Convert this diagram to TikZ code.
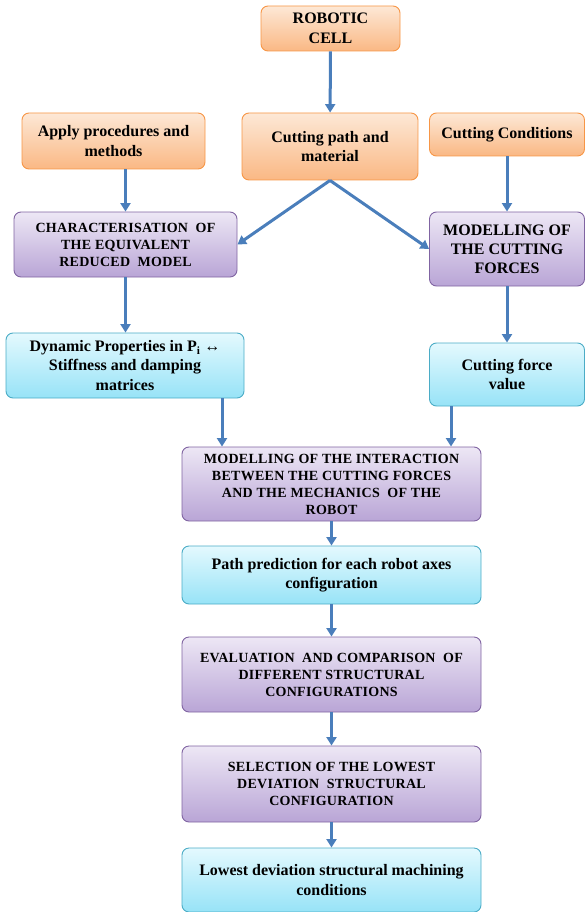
\documentclass[tikz,border=0pt]{standalone}
\usepackage{fontspec}
\setmainfont{Liberation Serif}
\newfontfamily\capsfont[LetterSpace=2]{Liberation Serif}
\usepackage{tikz}
\usetikzlibrary{arrows.meta}

\definecolor{orangeTop}{HTML}{FDE8D6}
\definecolor{orangeBottom}{HTML}{FAB884}
\definecolor{orangeEdge}{HTML}{F79646}
\definecolor{purpleTop}{HTML}{EDE7F5}
\definecolor{purpleBottom}{HTML}{B9A5D6}
\definecolor{purpleEdge}{HTML}{8064A2}
\definecolor{cyanTop}{HTML}{E4F9FE}
\definecolor{cyanBottom}{HTML}{97E3F7}
\definecolor{cyanEdge}{HTML}{4BACC6}
\definecolor{arrowBlue}{HTML}{4A7EBB}

\tikzset{
    block/.style={rounded corners=7pt, line width=0.9pt, align=center, inner sep=2pt},
    orangeblock/.style={block, draw=orangeEdge, top color=orangeTop, bottom color=orangeBottom,
        font=\bfseries\fontsize{16}{19.5}\selectfont},
    purpleblock/.style={block, draw=purpleEdge, top color=purpleTop, bottom color=purpleBottom,
        font=\capsfont\bfseries\fontsize{14}{17}\selectfont},
    cyanblock/.style={block, draw=cyanEdge, top color=cyanTop, bottom color=cyanBottom,
        font=\bfseries\fontsize{16}{19.5}\selectfont},
    flow/.style={draw=arrowBlue, line width=3pt, -{Triangle[length=8.5pt,width=10pt]}}
}

\begin{document}
\begin{tikzpicture}[x=1pt, y=-1pt]
    \useasboundingbox (0,0) rectangle (585,912);

    \node[orangeblock, minimum width=139pt, minimum height=45pt] (cell) at (330.5,28.5) {ROBOTIC\\CELL};
    \node[orangeblock, minimum width=183pt, minimum height=56pt] (apply) at (113.5,141) {Apply procedures and\\methods};
    \node[orangeblock, minimum width=176pt, minimum height=67pt] (path) at (330,146.5) {Cutting path and\\material};
    \node[orangeblock, minimum width=155pt, minimum height=43pt] (cond) at (507,134.5) {Cutting Conditions};

    \node[purpleblock, minimum width=223pt, minimum height=65pt] (charact) at (125.5,244.5) {CHARACTERISATION\ \ OF\\THE EQUIVALENT\\REDUCED\ \ MODEL};
    \node[purpleblock, minimum width=155pt, minimum height=74pt, font=\bfseries\fontsize{16}{19}\selectfont] (forces) at (507,249) {MODELLING OF\\THE CUTTING\\FORCES};

    \node[cyanblock, minimum width=238pt, minimum height=65pt] (dyn) at (125,365.5) {Dynamic Properties in P\textsubscript{i} ↔\\Stiffness and damping\\matrices};
    \node[cyanblock, minimum width=155pt, minimum height=63pt] (value) at (507,374.5) {Cutting force\\value};

    \node[purpleblock, minimum width=299pt, minimum height=74pt] (inter) at (331.5,484) {MODELLING OF THE INTERACTION\\BETWEEN THE CUTTING FORCES\\AND THE MECHANICS\ \ OF THE\\ROBOT};
    \node[cyanblock, minimum width=299pt, minimum height=58pt] (predict) at (331.5,575) {Path prediction for each robot axes\\configuration};
    \node[purpleblock, minimum width=299pt, minimum height=75pt] (eval) at (331.5,674.5) {EVALUATION\ \ AND COMPARISON\ \ OF\\DIFFERENT STRUCTURAL\\CONFIGURATIONS};
    \node[purpleblock, minimum width=299pt, minimum height=76pt] (select) at (331.5,784) {SELECTION OF THE LOWEST\\DEVIATION\ \ STRUCTURAL\\CONFIGURATION};
    \node[cyanblock, minimum width=299pt, minimum height=64pt] (lowest) at (331.5,880) {Lowest deviation structural machining\\conditions};

    \draw[flow] (cell) -- (path);
    \draw[flow] (apply.south -| charact.north) -- (charact.north);
    \draw[flow] (path.south) -- (charact.east);
    \draw[flow] (path.south) -- (forces.west);
    \draw[flow] (cond) -- (forces);
    \draw[flow] (charact.south) -- (charact.south |- dyn.north);
    \draw[flow] (forces) -- (value);
    \draw[flow] (dyn.south -| 222,0) -- (inter.north -| 222,0);
    \draw[flow] (value.south -| 451,0) -- (inter.north -| 451,0);
    \draw[flow] (inter) -- (predict);
    \draw[flow] (predict) -- (eval);
    \draw[flow] (eval) -- (select);
    \draw[flow] (select) -- (lowest);

\end{tikzpicture}
\end{document}
